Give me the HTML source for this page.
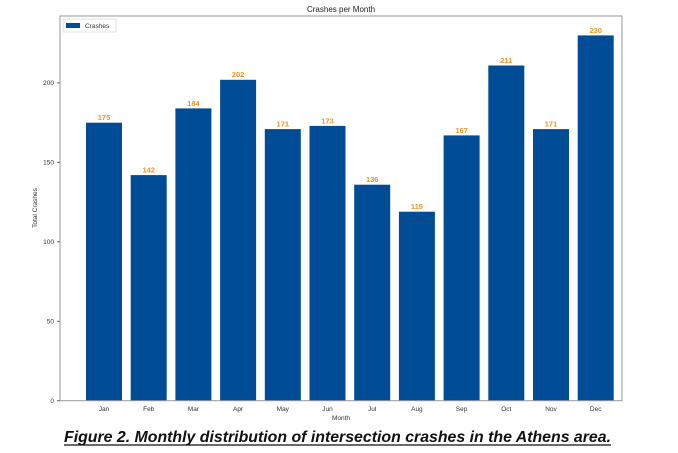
<!DOCTYPE html>
<html><head><style>
body{margin:0;background:#fff;width:678px;height:448px;overflow:hidden;font-family:"Liberation Sans",sans-serif}
</style></head><body>
<svg width="678" height="448" xmlns="http://www.w3.org/2000/svg" font-family="Liberation Sans, sans-serif">
<text x="341" y="12" font-size="8" text-anchor="middle" fill="#222">Crashes per Month</text>
<g fill="#004c97">
<rect x="86" y="122.7" width="36" height="278"/>
<rect x="130.7" y="175.1" width="36" height="225.6"/>
<rect x="175.4" y="108.4" width="36" height="292.3"/>
<rect x="220.1" y="79.8" width="36" height="320.9"/>
<rect x="264.8" y="129.1" width="36" height="271.6"/>
<rect x="309.5" y="125.9" width="36" height="274.8"/>
<rect x="354.2" y="184.7" width="36" height="216"/>
<rect x="398.9" y="211.7" width="36" height="189"/>
<rect x="443.6" y="135.4" width="36" height="265.3"/>
<rect x="488.3" y="65.5" width="36" height="335.2"/>
<rect x="533" y="129.1" width="36" height="271.6"/>
<rect x="577.7" y="35.4" width="36" height="365.3"/>
</g>
<g fill="#f0922b" font-size="7.5" font-weight="bold" text-anchor="middle">
<text x="104" y="120">175</text><text x="148.7" y="172.5">142</text><text x="193.4" y="106">184</text><text x="238.1" y="77">202</text><text x="282.8" y="126.5">171</text><text x="327.5" y="123.3">173</text><text x="372.2" y="182">136</text><text x="416.9" y="209">119</text><text x="461.6" y="133">167</text><text x="506.3" y="63">211</text><text x="551" y="126.5">171</text><text x="595.7" y="33">230</text>
</g>
<rect x="60" y="16" width="562" height="384.7" fill="none" stroke="#999" stroke-width="1"/>
<g fill="#333" font-size="6.5" text-anchor="end">
<text x="54" y="403">0</text><text x="54" y="323.5">50</text><text x="54" y="244">100</text><text x="54" y="164.5">150</text><text x="54" y="85">200</text>
</g>
<g stroke="#666"><line x1="57" x2="60" y1="400.7" y2="400.7"/><line x1="57" x2="60" y1="321.3" y2="321.3"/><line x1="57" x2="60" y1="241.8" y2="241.8"/><line x1="57" x2="60" y1="162.4" y2="162.4"/><line x1="57" x2="60" y1="82.9" y2="82.9"/></g>
<g fill="#333" font-size="6.5" text-anchor="middle">
<text x="104" y="411">Jan</text><text x="148.7" y="411">Feb</text><text x="193.4" y="411">Mar</text><text x="238.1" y="411">Apr</text><text x="282.8" y="411">May</text><text x="327.5" y="411">Jun</text><text x="372.2" y="411">Jul</text><text x="416.9" y="411">Aug</text><text x="461.6" y="411">Sep</text><text x="506.3" y="411">Oct</text><text x="551" y="411">Nov</text><text x="595.7" y="411">Dec</text>
<text x="341" y="420">Month</text>
<text transform="translate(37,208) rotate(-90)">Total Crashes</text>
</g>
<rect x="63" y="19" width="53" height="13" fill="#fff" stroke="#ddd" stroke-width="0.8"/>
<rect x="66" y="23" width="14" height="5" fill="#004c97"/>
<text x="85" y="28" font-size="6.5" fill="#333">Crashes</text>
<text x="64" y="442" font-size="15.5" font-weight="bold" font-style="italic" fill="#111" textLength="547" lengthAdjust="spacingAndGlyphs">Figure 2. Monthly distribution of intersection crashes in the Athens area.</text>
<line x1="64" x2="611" y1="445" y2="445" stroke="#111" stroke-width="1.2"/>
</svg>
</body></html>
